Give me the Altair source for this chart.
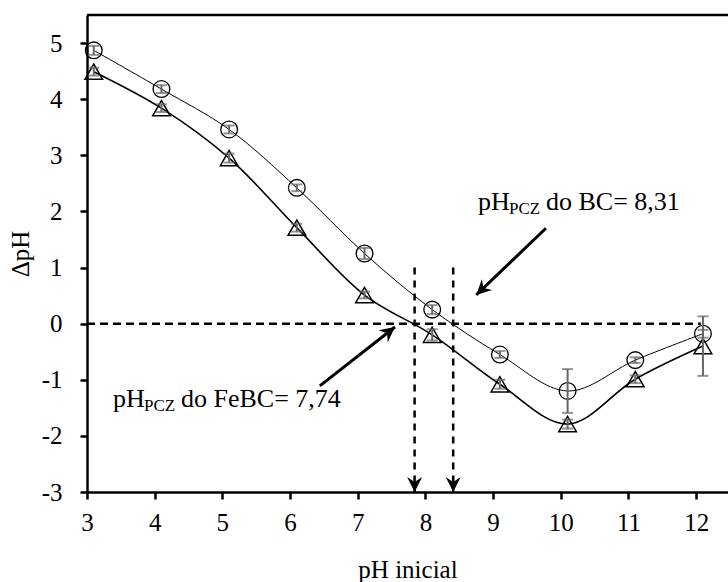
import math
import altair as alt
import pandas as pd

# ---------------- data ----------------
ph_inicial = [3.1, 4.1, 5.1, 6.1, 7.1, 8.1, 9.1, 10.1, 11.1, 12.1]
delta_bc = [4.87, 4.18, 3.46, 2.42, 1.25, 0.25, -0.55, -1.20, -0.65, -0.18]
err_bc = [0.08, 0.07, 0.07, 0.06, 0.10, 0.08, 0.06, 0.39, 0.05, 0.07]
delta_febc = [4.49, 3.84, 2.95, 1.71, 0.51, -0.20, -1.08, -1.79, -0.99, -0.40]
err_febc = [0.07, 0.07, 0.08, 0.07, 0.06, 0.10, 0.08, 0.08, 0.07, 0.53]

x_tick_values = [3, 3.5, 4, 4.5, 5, 5.5, 6, 6.5, 7, 7.5, 8, 8.5, 9, 9.5, 10, 10.5, 11, 11.5, 12]
y_tick_values = [-3, -2.5, -2, -1.5, -1, -0.5, 0, 0.5, 1, 1.5, 2, 2.5, 3, 3.5, 4, 4.5, 5]

X_DOM = [3, 12.47]
Y_DOM = [-3, 5.5]

# guide lines (PCZ)
pcz_lines_x = [7.84, 8.41]
pcz_lines_top = [1.0, 1.0]
zero_line_x = [3, 12.07]

# arrows: start -> tip
arrow_x1 = [9.78, 6.44]
arrow_y1 = [1.70, -1.11]
arrow_x2 = [8.75, 7.55]
arrow_y2 = [0.51, -0.06]

# annotation texts
ann_x = [8.776, 3.384]
ann_y = [2.02, -1.49]
ann_main = ["pH", "pH"]
ann_sub = ["PCZ", "PCZ"]
ann_rest = ["do BC= 8,31", "do FeBC= 7,74"]

# ---------------- layout ----------------
W, H = 641, 477
PAD = {"left": 87, "top": 15, "right": 0, "bottom": 90}
FONT = "Liberation Serif"
AX_FS = 25

xs = alt.Scale(domain=X_DOM, nice=False, zero=False)
ys = alt.Scale(domain=Y_DOM, nice=False, zero=False)

is_major = "datum.value % 1 === 0"
x_axis = alt.Axis(
    values=x_tick_values,
    labelExpr=f"{is_major} ? '' + datum.value : ''",
    tickSize={"condition": {"test": is_major, "value": 7}, "value": 5},
    tickWidth=2.5, tickColor="black",
    domainWidth=2.5, domainColor="black",
    labelFont=FONT, labelFontSize=AX_FS, labelColor="black",
    labelPadding=11, labelFlush=False, labelOverlap=False,
    grid=False,
    title="pH inicial", titleFont=FONT, titleFontSize=AX_FS, titleFontWeight="normal",
    titleColor="black", titleY=85, titleX=W / 2, titleBaseline="alphabetic",
)
y_axis = alt.Axis(
    values=y_tick_values,
    labelExpr=f"{is_major} ? '' + datum.value : ''",
    tickSize={"condition": {"test": is_major, "value": 7}, "value": 5},
    tickWidth=2.5, tickColor="black",
    domainWidth=2.5, domainColor="black",
    labelFont=FONT, labelFontSize=AX_FS, labelColor="black",
    labelPadding=18, labelFlush=False, labelOverlap=False,
    grid=False,
    title="ΔpH", titleFont=FONT, titleFontSize=AX_FS, titleFontWeight="normal",
    titleColor="black", titleX=-59, titleY=H / 2, titleAngle=270,
    titleBaseline="alphabetic", titleAlign="center",
)

df = pd.DataFrame({
    "x": ph_inicial * 2,
    "y": delta_bc + delta_febc,
    "err": err_bc + err_febc,
    "serie": ["BC"] * len(ph_inicial) + ["FeBC"] * len(ph_inicial),
})
df["lo"] = df["y"] - df["err"]
df["hi"] = df["y"] + df["err"]
bc = df[df.serie == "BC"]
fe = df[df.serie == "FeBC"]

base_axes = alt.Chart(pd.DataFrame({"x": [X_DOM[0]], "y": [Y_DOM[0]]})).mark_point(opacity=0).encode(
    x=alt.X("x:Q", scale=xs, axis=x_axis),
    y=alt.Y("y:Q", scale=ys, axis=y_axis),
)

# top frame line
frame = alt.Chart(pd.DataFrame({"x": [X_DOM[0]], "x2": [X_DOM[1]], "y": [Y_DOM[1]]})).mark_rule(
    color="black", strokeWidth=2.5
).encode(x=alt.X("x:Q", scale=xs), x2="x2:Q", y=alt.Y("y:Q", scale=ys))

# zero dashed line
zero_line = alt.Chart(pd.DataFrame({"x": [zero_line_x[0]], "x2": [zero_line_x[1]], "y": [0]})).mark_rule(
    color="black", strokeWidth=2.5, strokeDash=[8, 5]
).encode(x=alt.X("x:Q", scale=xs), x2="x2:Q", y=alt.Y("y:Q", scale=ys))

# vertical dashed guides
vdf = pd.DataFrame({"x": pcz_lines_x, "y": pcz_lines_top, "y2": [Y_DOM[0]] * 2})
vlines = alt.Chart(vdf).mark_rule(color="black", strokeWidth=2.5, strokeDash=[7, 6]).encode(
    x=alt.X("x:Q", scale=xs), y=alt.Y("y:Q", scale=ys), y2="y2:Q"
)

ARROW = "M0,0L-1,-2L0,-1.35L1,-2Z"
vheads = alt.Chart(vdf).mark_point(shape=ARROW, filled=True, color="black", size=225, opacity=1).encode(
    x=alt.X("x:Q", scale=xs), y=alt.Y("y2:Q", scale=ys)
)

# diagonal arrows
px_x = W / (X_DOM[1] - X_DOM[0])
px_y = H / (Y_DOM[1] - Y_DOM[0])
angles = []
for x1, y1, x2, y2 in zip(arrow_x1, arrow_y1, arrow_x2, arrow_y2):
    dx = (x2 - x1) * px_x
    dy = -(y2 - y1) * px_y
    a = math.degrees(math.atan2(-dx, dy)) % 360
    angles.append(a)
adf = pd.DataFrame({"x": arrow_x1, "y": arrow_y1, "x2": arrow_x2, "y2": arrow_y2, "ang": angles})
arrows = alt.Chart(adf).mark_rule(color="black", strokeWidth=3).encode(
    x=alt.X("x:Q", scale=xs), y=alt.Y("y:Q", scale=ys), x2="x2:Q", y2="y2:Q"
)
aheads = alt.Chart(adf).mark_point(shape=ARROW, filled=True, color="black", size=225, opacity=1).encode(
    x=alt.X("x2:Q", scale=xs), y=alt.Y("y2:Q", scale=ys),
    angle=alt.Angle("ang:Q", scale=None),
)

# series lines (Excel-like smoothing)
line_bc = alt.Chart(bc).mark_line(color="black", strokeWidth=1, interpolate="catmull-rom").encode(
    x=alt.X("x:Q", scale=xs), y=alt.Y("y:Q", scale=ys)
)
line_fe = alt.Chart(fe).mark_line(color="black", strokeWidth=1.6, interpolate="catmull-rom").encode(
    x=alt.X("x:Q", scale=xs), y=alt.Y("y:Q", scale=ys)
)

# markers
pts_bc = alt.Chart(bc).mark_point(shape="circle", filled=False, color="black", size=280,
                                  strokeWidth=1.3, opacity=1).encode(
    x=alt.X("x:Q", scale=xs), y=alt.Y("y:Q", scale=ys)
)
pts_fe = alt.Chart(fe).mark_point(shape="triangle-up", filled=False, color="black", size=310,
                                  strokeWidth=1.5, opacity=1).encode(
    x=alt.X("x:Q", scale=xs), y=alt.Y("y:Q", scale=ys)
)

# error bars
ebar = alt.Chart(df).mark_rule(color="#666666", strokeWidth=2).encode(
    x=alt.X("x:Q", scale=xs), y=alt.Y("lo:Q", scale=ys), y2="hi:Q"
)
cap_lo = alt.Chart(df).mark_tick(color="#666666", orient="horizontal", size=11, thickness=2).encode(
    x=alt.X("x:Q", scale=xs), y=alt.Y("lo:Q", scale=ys)
)
cap_hi = alt.Chart(df).mark_tick(color="#666666", orient="horizontal", size=11, thickness=2).encode(
    x=alt.X("x:Q", scale=xs), y=alt.Y("hi:Q", scale=ys)
)

# annotations
tdf = pd.DataFrame({"x": ann_x, "y": ann_y, "main": ann_main, "sub": ann_sub, "rest": ann_rest})
t_main = alt.Chart(tdf).mark_text(font=FONT, fontSize=26, align="left", baseline="alphabetic",
                                  color="black").encode(
    x=alt.X("x:Q", scale=xs), y=alt.Y("y:Q", scale=ys), text="main:N"
)
t_sub = alt.Chart(tdf).mark_text(font=FONT, fontSize=17, align="left", baseline="alphabetic",
                                 color="black", dx=31, dy=4).encode(
    x=alt.X("x:Q", scale=xs), y=alt.Y("y:Q", scale=ys), text="sub:N"
)
t_rest = alt.Chart(tdf).mark_text(font=FONT, fontSize=26, align="left", baseline="alphabetic",
                                  color="black", dx=68).encode(
    x=alt.X("x:Q", scale=xs), y=alt.Y("y:Q", scale=ys), text="rest:N"
)

chart = alt.layer(
    base_axes, frame, zero_line, vlines, vheads, arrows, aheads,
    line_bc, line_fe, pts_bc, pts_fe, ebar, cap_lo, cap_hi,
    t_main, t_sub, t_rest,
).properties(
    width=W, height=H,
    autosize=alt.AutoSizeParams(type="none"),
    padding=PAD,
).configure_view(stroke=None).configure(background="white", font=FONT)

chart.save("out.html", embed_options={"renderer": "svg", "actions": False})
